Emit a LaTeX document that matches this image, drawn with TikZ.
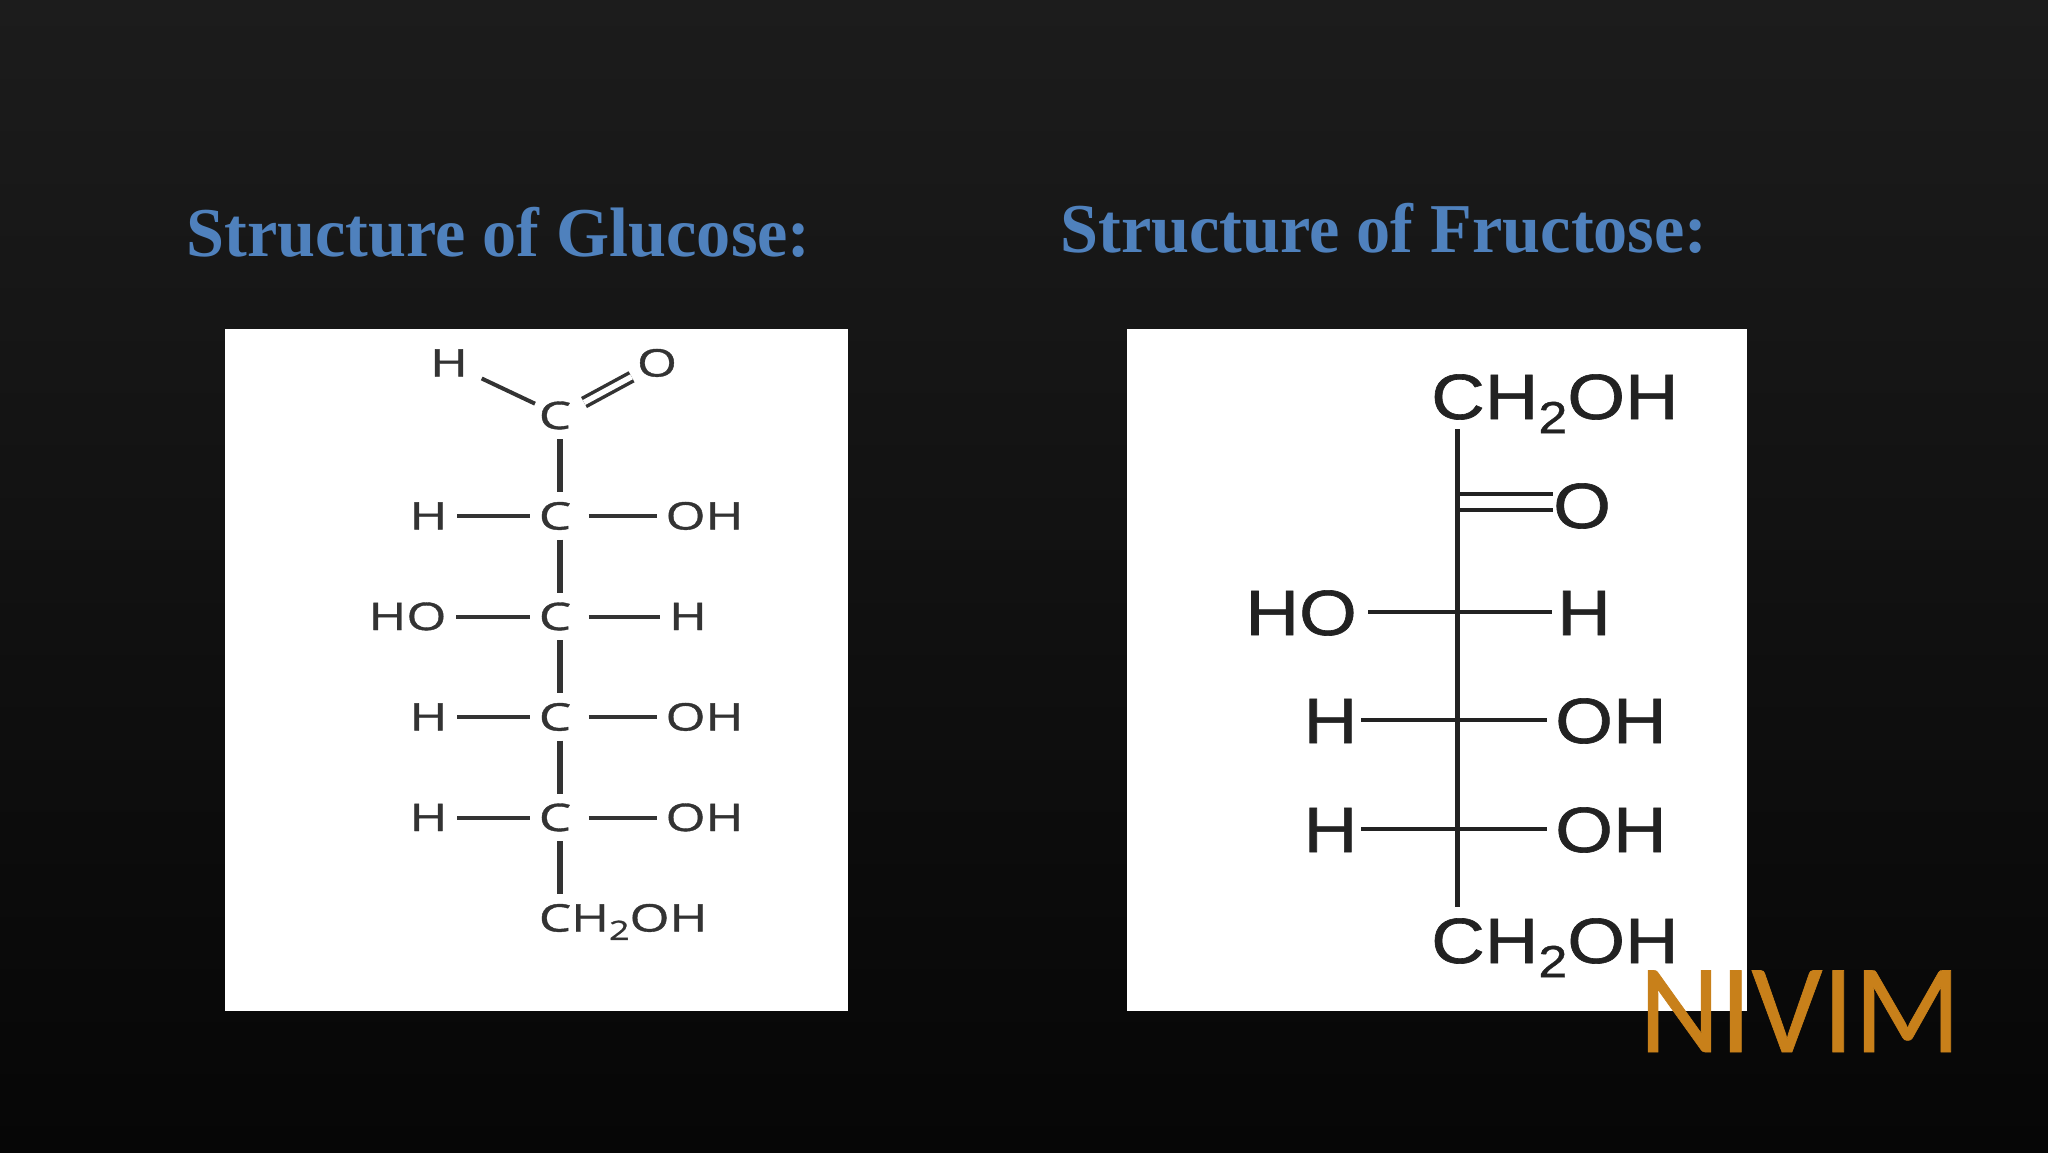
\documentclass[tikz,border=0pt]{standalone}
\usepackage{fontspec}
\usetikzlibrary{positioning}
\setmainfont{Liberation Serif}
\newfontfamily\titlefont[FakeStretch=0.975]{Liberation Serif}
\newfontfamily\glufont[FakeStretch=1.35,FakeBold=1]{Open Sans}
\newfontfamily\frufont[FakeStretch=1.16,FakeBold=1]{Liberation Sans}
\newfontfamily\markfont[FakeStretch=0.985,FakeBold=0.5]{Carlito}
\definecolor{slidetop}{HTML}{0F0F0F}
\definecolor{slidemid}{HTML}{1C1C1C}
\definecolor{slidelow}{HTML}{060606}
\definecolor{headblue}{HTML}{4F81BD}
\definecolor{markgold}{HTML}{C8801A}
\definecolor{gluink}{HTML}{333333}
\definecolor{fruink}{HTML}{222222}
\pgfdeclareverticalshading{slideshade}{100bp}{color(0bp)=(slidelow); color(25bp)=(slidelow); color(75bp)=(slidemid); color(100bp)=(slidetop)}
\newcommand{\subtwo}{\raisebox{-0.22em}{\scalebox{0.7}{2}}}

\begin{document}
\begin{tikzpicture}[x=1pt,y=-1pt,
    panel/.style={fill=white,inner sep=0pt,minimum width=623pt,minimum height=682pt},
    heading/.style={text=headblue,inner sep=0pt,font=\titlefont\bfseries\fontsize{70}{80}\selectfont},
    gluatom/.style={text=gluink,inner sep=0pt,text height=27pt,text depth=0pt,font=\glufont\fontsize{38}{44}\selectfont},
    fruatom/.style={text=fruink,inner sep=0pt,text height=46pt,text depth=0pt,font=\frufont\fontsize{64}{72}\selectfont},
    vbond/.style={draw=gluink,line width=6pt,shorten >=10pt,shorten <=10pt},
    lbond/.style={draw=gluink,line width=4pt,shorten <=9pt,shorten >=9.5pt},
    rbond/.style={draw=gluink,line width=4pt,shorten <=7.5pt,shorten >=8.5pt},
    spine/.style={draw=fruink,line width=5pt},
    crossbond/.style={draw=fruink,line width=4pt,shorten >=8pt,shorten <=3.5pt}]

    \shade[shading=slideshade] (0,0) rectangle (2048,1152);

    \node[heading] (gluhead) at (498.5,232) {Structure of Glucose:};
    \node[heading] (fruhead) at (1384,228.5) {Structure of Fructose:};

    \node[panel] (glupanel) at (536.5,669.5) {};
    \node[panel,minimum width=620pt] (frupanel) at (1437,669.5) {};

    % glucose
    \node[gluatom] (c0) at (560,415.5) {C\kern10pt};
    \node[gluatom] (c1) [below=73.1pt of c0] {C\kern10pt};
    \node[gluatom] (c2) [below=73.1pt of c1] {C\kern10pt};
    \node[gluatom] (c3) [below=73.1pt of c2] {C\kern10pt};
    \node[gluatom] (c4) [below=73.1pt of c3] {C\kern10pt};
    \node[gluatom] (ctail) [below right=73.1pt and 0pt of c4.south west] {CH\subtwo OH};

    \node[gluatom] (htop) at (449,363) {H};
    \node[gluatom] (otop) at (657,363) {O};

    \node[gluatom] (hl1) [left=91pt of c1] {H};
    \node[gluatom] (ol1) [right=84pt of c1] {OH};
    \node[gluatom] (ol2) [left=92pt of c2] {HO};
    \node[gluatom] (hl2) [right=87.5pt of c2] {H};
    \node[gluatom] (hl3) [left=91pt of c3] {H};
    \node[gluatom] (ol3) [right=84pt of c3] {OH};
    \node[gluatom] (hl4) [left=91pt of c4] {H};
    \node[gluatom] (ol4) [right=84pt of c4] {OH};

    \path (c0) edge[vbond] (c1)
          (c1) edge[vbond] (c2)
               edge[lbond] (hl1)
               edge[rbond] (ol1)
          (c2) edge[vbond] (c3)
               edge[lbond] (ol2)
               edge[rbond] (hl2)
          (c3) edge[vbond] (c4)
               edge[lbond] (hl3)
               edge[rbond] (ol3)
          (c4) edge[vbond] (c4 |- ctail.north)
               edge[lbond] (hl4)
               edge[rbond] (ol4);

    \draw[gluink,line width=4pt,shorten <=15pt,shorten >=4pt] (htop) -- (c0);
    \draw[gluink,line width=3.5pt,double=white,double distance=5.5pt,shorten <=3pt,shorten >=6pt] (c0) -- (otop);

    % fructose
    \coordinate (f0) at (1457,502);
    \coordinate (f1) at (1457,612);
    \coordinate (f2) at (1457,720);
    \coordinate (f3) at (1457,829);

    \node[fruatom,anchor=west] (ftop) at (1431,396) {CH\subtwo OH};
    \node[fruatom,anchor=west] (fbot) at (1431,940) {CH\subtwo OH};
    \node[fruatom,anchor=west] (fo) at (1553,505) {O};

    \node[fruatom] (fho) [left=100pt of f1] {HO};
    \node[fruatom] (fh) [right=100pt of f1] {H};
    \node[fruatom] (fh2) [left=99.5pt of f2] {H};
    \node[fruatom] (fo2) [right=98pt of f2] {OH};
    \node[fruatom] (fh3) [left=99.5pt of f3] {H};
    \node[fruatom] (fo3) [right=98pt of f3] {OH};

    \draw[draw=fruink,line width=4pt,double=white,double distance=12.5pt] (f0) -- (f0 -| fo.west);

    \path (fho) edge[crossbond,shorten <=11pt,shorten >=5.5pt] (fh)
          (fh2) edge[crossbond] (fo2)
          (fh3) edge[crossbond] (fo3);

    \draw[spine,shorten <=10pt,shorten >=10pt] (f0 |- ftop.south) -- (f0 |- fbot.north);

    \node[text=markgold,inner sep=0pt,text height=82pt,text depth=0pt,font=\markfont\fontsize{127}{140}\selectfont] (mark) at (1800,1011) {NIVIM};
\end{tikzpicture}
\end{document}
